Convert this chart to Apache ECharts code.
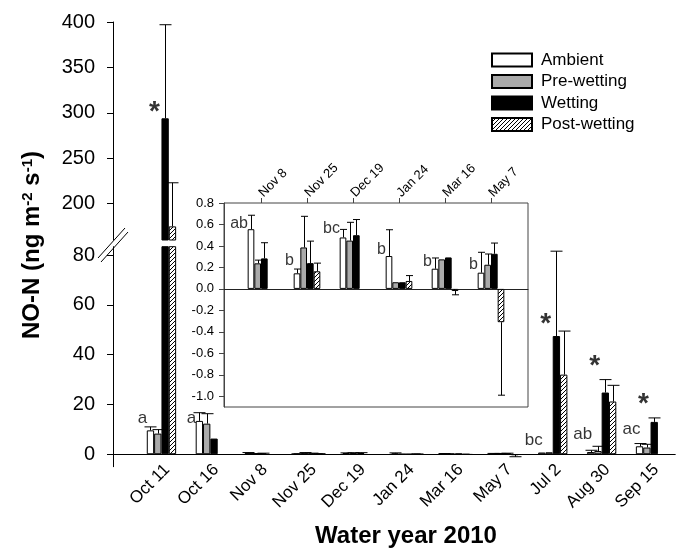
<!DOCTYPE html>
<html><head><meta charset="utf-8">
<script src="https://cdn.jsdelivr.net/npm/echarts@6/dist/echarts.min.js"></script>
<style>html,body{margin:0;padding:0;background:#fff}#c{width:681px;height:550px}</style>
</head><body><div id="c"></div>
<script>
// ---------- data ----------
const categories = ["Oct 11","Oct 16","Nov 8","Nov 25","Dec 19","Jan 24","Mar 16","May 7","Jul 2","Aug 30","Sep 15"];
const seriesNames = ["Ambient","Pre-wetting","Wetting","Post-wetting"];
const ambient        = [9.6, 13.4, 0.556, 0.145, 0.479, 0.306, 0.188, 0.151, 0.7, 0.9, 3.2];
const ambientErr     = [1.4, 3.3, 0.13, 0.04, 0.075, 0.245, 0.10, 0.19, null, 0.7, 1.1];
const preWetting     = [8.3, 12.3, 0.238, 0.386, 0.45, 0.062, 0.275, 0.225, 0.8, 1.3, 2.7];
const preWettingErr  = [1.6, 4.0, 0.03, 0.29, 0.17, null, null, 0.10, null, 1.9, 1.3];
const wetting        = [294, 6.3, 0.284, 0.24, 0.50, 0.062, 0.293, 0.327, 47.5, 24.8, 13.0];
const wettingErr     = [103, null, 0.146, 0.205, 0.146, null, null, 0.10, 34.1, 5.2, 1.6];
const postWetting    = [175, null, null, 0.164, null, 0.074, -0.02, -0.31, 32, 21.2, null];
const postWettingErr = [48, null, null, 0.076, null, 0.05, 0.035, 0.68, 17.5, 6.5, null];
const mainLetters    = ["a","a","","","","","","","bc","ab","ac"];
const mainLetterY    = [13.7, 13.7, null, null, null, null, null, null, 4.9, 7.2, 9.4];
const starY          = [306.6, null, null, null, null, null, null, null, 54.2, 37.3, 22.0];
const insetFirst = 2, insetLast = 7;           // Nov 8 .. May 7
const insetLetters   = ["ab","b","bc","b","b","b"];
const insetLetterY   = [0.61, 0.26, 0.56, 0.37, 0.25, 0.23];
const upperTicks = [200, 250, 300, 350, 400];
const lowerTicks = [0, 20, 40, 60, 80];
const insetTicks = [-1.0, -0.8, -0.6, -0.4, -0.2, 0.0, 0.2, 0.4, 0.6, 0.8];

// ---------- helpers ----------
const FF = '"Liberation Sans", Arial, Helvetica, sans-serif';
const values = [ambient, preWetting, wetting, postWetting];
const errs = [ambientErr, preWettingErr, wettingErr, postWettingErr];

function hatch() {
  const c = document.createElement('canvas');
  c.width = 4; c.height = 4;
  const g = c.getContext('2d');
  g.fillStyle = '#fff'; g.fillRect(0, 0, 4, 4);
  g.strokeStyle = '#000'; g.lineWidth = 1;
  g.beginPath();
  g.moveTo(0, 4); g.lineTo(4, 0);
  g.moveTo(-1, 1); g.lineTo(1, -1);
  g.moveTo(3, 5); g.lineTo(5, 3);
  g.stroke();
  return c;
}
const fills = ['#ffffff', '#aaaaaa', '#000000', { image: hatch(), repeat: 'repeat' }];

const c = echarts.init(document.getElementById('c'), null, { renderer: 'canvas' });

const NB = { outerBoundsMode: 'none', containLabel: false };
const grids = [
  Object.assign({ left: 113, right: 6, top: 22, height: 218 }, NB),     // 0 upper frame
  Object.assign({ left: 113, right: 6, top: 246.7, height: 220 }, NB),  // 1 lower frame
  Object.assign({ left: 137, right: 6, top: 22, height: 218 }, NB),     // 2 upper bars
  Object.assign({ left: 137, right: 6, top: 246.7, height: 220 }, NB),  // 3 lower bars
  Object.assign({ left: 224, width: 304, top: 203, height: 204, show: true, backgroundColor: '#fff', borderColor: '#444', borderWidth: 1 }, NB), // 4 inset box
  Object.assign({ left: 238, width: 276, top: 203, height: 204 }, NB)   // 5 inset bars
];

const UPPER = [160, 400], LOWER = [-5, 83.4], INSET = [-1.1, 0.8];

const hiddenValueX = (g) => ({ type: 'value', gridIndex: g, min: 0, max: 1, show: false });
const xAxes = [
  hiddenValueX(0),
  { type: 'value', gridIndex: 1, min: 0, max: 1, axisLine: { show: true, onZero: true, lineStyle: { color: '#000', width: 1 } },
    axisTick: { show: false }, axisLabel: { show: false }, splitLine: { show: false } },
  { type: 'category', gridIndex: 2, data: categories, show: false },
  { type: 'category', gridIndex: 3, data: categories,
    axisLine: { show: true, onZero: true, lineStyle: { color: '#000', width: 1 } },
    axisTick: { show: false },
    axisLabel: { interval: 0, rotate: 45, fontSize: 17, color: '#000', fontFamily: FF, margin: 6, padding: [0, -8, 0, 0] },
    name: 'Water year 2010', nameLocation: 'middle', nameGap: 58, nameMoveOverlap: false,
    nameTextStyle: { fontSize: 24, fontWeight: 'bold', color: '#000', fontFamily: FF } },
  { type: 'value', gridIndex: 4, min: 0, max: 1,
    axisLine: { show: true, onZero: true, lineStyle: { color: '#222', width: 1 } },
    axisTick: { show: false }, axisLabel: { show: false }, splitLine: { show: false } },
  { type: 'category', gridIndex: 5, position: 'top', data: categories.slice(insetFirst, insetLast + 1),
    axisLine: { show: false, onZero: false },
    axisTick: { show: true, alignWithLabel: true, length: 5, lineStyle: { color: '#444' } },
    axisLabel: { interval: 0, rotate: -45, fontSize: 13, color: '#000', fontFamily: FF, margin: 8 } }
];

function visY(g, range, ticks, fs, margin, tickLen, fmt, lineColor) {
  return { type: 'value', gridIndex: g, min: range[0], max: range[1],
    axisLine: { show: true, onZero: false, lineStyle: { color: lineColor, width: 1 } },
    axisTick: { show: true, customValues: ticks, length: tickLen, lineStyle: { color: lineColor } },
    axisLabel: { customValues: ticks, fontSize: fs, color: '#000', fontFamily: FF, margin: margin, formatter: fmt },
    splitLine: { show: false } };
}
const yAxes = [
  visY(0, UPPER, upperTicks, 20, 18, 6, v => String(v), '#000'),
  visY(1, LOWER, lowerTicks, 20, 18, 6, v => String(v), '#000'),
  { type: 'value', gridIndex: 2, min: UPPER[0], max: UPPER[1], show: false },
  { type: 'value', gridIndex: 3, min: LOWER[0], max: LOWER[1], show: false },
  visY(4, INSET, insetTicks, 13, 10, 5, v => (Math.abs(v) < 1e-9 ? 0 : v).toFixed(1), '#444'),
  { type: 'value', gridIndex: 5, min: INSET[0], max: INSET[1], show: false }
];

const series = [];
function addBars(ax, sliceFrom, sliceTo, gapPct) {
  for (let k = 0; k < 4; k++) {
    series.push({
      type: 'bar', name: seriesNames[k], xAxisIndex: ax, yAxisIndex: ax,
      data: values[k].slice(sliceFrom, sliceTo),
      barGap: 0, barCategoryGap: gapPct, clip: true,
      itemStyle: { color: fills[k], borderColor: '#000', borderWidth: 1 },
      emphasis: { disabled: true }, animation: false, z: 2
    });
  }
}
function addErr(ax, sliceFrom, sliceTo, frac, capW) {
  const data = [];
  for (let k = 0; k < 4; k++) {
    for (let i = sliceFrom; i < sliceTo; i++) {
      const v = values[k][i], e = errs[k][i];
      if (v != null && e != null) data.push([i - sliceFrom, v, e, k]);
    }
  }
  series.push({
    type: 'custom', name: 'err', xAxisIndex: ax, yAxisIndex: ax, clip: true, z: 3, animation: false,
    data: data,
    renderItem: function (params, api) {
      const cat = api.value(0), v = api.value(1), e = api.value(2), k = api.value(3);
      const band = api.size([1, 0])[0];
      const bw = band * frac / 4;
      const p0 = api.coord([cat, v]);
      const p1 = api.coord([cat, v < 0 ? v - e : v + e]);
      const x = Math.round(p0[0] + (k - 1.5) * bw) + 0.5;
      const st = { stroke: '#000', lineWidth: 1 };
      return { type: 'group', children: [
        { type: 'line', shape: { x1: x, y1: p0[1], x2: x, y2: p1[1] }, style: st },
        { type: 'line', shape: { x1: x - capW / 2, y1: p1[1], x2: x + capW / 2, y2: p1[1] }, style: st }
      ] };
    }
  });
}
addBars(2, 0, categories.length, '40%');
addBars(3, 0, categories.length, '40%');
addBars(5, insetFirst, insetLast + 1, '42%');
addErr(2, 0, categories.length, 0.6, 12);
addErr(3, 0, categories.length, 0.6, 12);
addErr(5, insetFirst, insetLast + 1, 0.58, 7);

// letters (main)
const mainLetterData = [];
mainLetterY.forEach((y, i) => { if (y != null) mainLetterData.push([i, y]); });
series.push({
  type: 'scatter', name: 'letters', xAxisIndex: 3, yAxisIndex: 3, symbolSize: 1,
  itemStyle: { color: 'rgba(0,0,0,0)' }, data: mainLetterData, z: 4, animation: false,
  label: { show: true, position: 'inside', formatter: p => mainLetters[p.value[0]],
    fontSize: 17, color: '#000', fontFamily: FF, offset: [-19, -2] }
});
// letters (inset)
series.push({
  type: 'scatter', name: 'letters', xAxisIndex: 5, yAxisIndex: 5, symbolSize: 1,
  itemStyle: { color: 'rgba(0,0,0,0)' }, data: insetLetterY.map((y, i) => [i, y]), z: 4, animation: false,
  label: { show: true, position: 'inside', formatter: p => insetLetters[p.value[0]], align: 'right',
    fontSize: 16, color: '#000', fontFamily: FF, offset: [-13, 0] }
});
// significance asterisks
function addStars(ax, range) {
  const d = [];
  starY.forEach((y, i) => { if (y != null && y > range[0] && y < range[1]) d.push([i, y]); });
  series.push({
    type: 'scatter', name: 'stars', xAxisIndex: ax, yAxisIndex: ax, symbolSize: 1,
    itemStyle: { color: 'rgba(0,0,0,0)' }, data: d, z: 4, animation: false,
    label: { show: true, position: 'inside', formatter: '*', fontSize: 28, fontWeight: 'bold',
      color: '#000', fontFamily: FF, offset: [-7, 5] }
  });
}
addStars(2, UPPER);
addStars(3, LOWER);

const option = {
  backgroundColor: '#fff',
  animation: false,
  grid: grids,
  xAxis: xAxes,
  yAxis: yAxes,
  legend: {
    data: seriesNames, orient: 'vertical', left: 491, top: 51.5, padding: 0,
    itemWidth: 40, itemHeight: 13, itemGap: 4.5, icon: 'rect', selectedMode: false,
    textStyle: { fontSize: 17, color: '#000', fontFamily: FF, padding: [0, 0, 0, 4] }
  },
  graphic: [
    { type: 'line', shape: { x1: 98, y1: 258, x2: 125, y2: 228 }, style: { stroke: '#000', lineWidth: 1 }, z: 10 },
    { type: 'line', shape: { x1: 101, y1: 262, x2: 128, y2: 232 }, style: { stroke: '#000', lineWidth: 1 }, z: 10 },
    { type: 'text', x: 32, y: 245, rotation: Math.PI / 2, z: 10,
      style: {
        text: '{b|NO-N (ng m}{s|-2}{b| s}{s|-1}{b|)}',
        align: 'center', verticalAlign: 'middle', textAlign: 'center', textVerticalAlign: 'middle',
        fill: '#000',
        rich: {
          b: { fontSize: 24, fontWeight: 'bold', fontFamily: FF, fill: '#000' },
          s: { fontSize: 15, fontWeight: 'bold', fontFamily: FF, fill: '#000', verticalAlign: 'top' }
        }
      } }
  ],
  series: series
};
c.setOption(option);
</script>
</body></html>
